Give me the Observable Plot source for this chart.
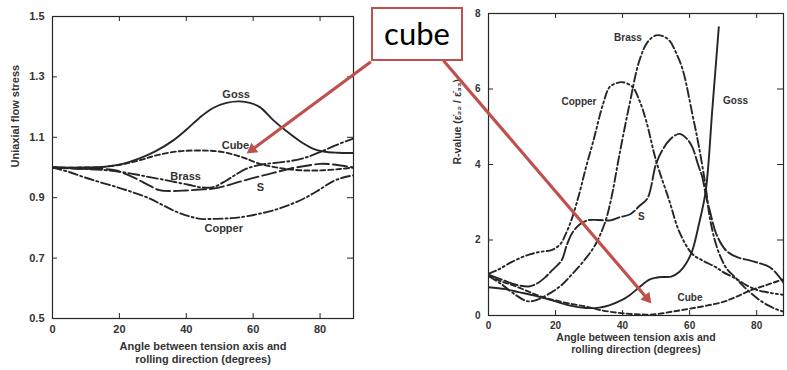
<!DOCTYPE html>
<html><head><meta charset="utf-8">
<script src="https://cdn.jsdelivr.net/npm/d3@7"></script>
<script src="https://cdn.jsdelivr.net/npm/@observablehq/plot@0.6"></script>
<style>
html,body{margin:0;padding:0;background:#fff;overflow:hidden;}
#wrap{position:relative;width:787px;height:370px;overflow:hidden;background:#fff;}
#left{position:absolute;left:0;top:0;}
#right{position:absolute;left:400px;top:0;}
#callout{position:absolute;left:371px;top:7px;width:88px;height:50px;border:2px solid #c0504d;background:#fff;font-family:Lato,"Open Sans",sans-serif;font-size:31px;line-height:48px;text-align:center;color:#000;}
</style></head>
<body>
<div id="wrap"><div id="left"></div><div id="right"></div><div id="callout">cube</div></div>
<script>
// ---------- data ----------
const angleTicks = [0, 20, 40, 60, 80];
const flowTicks = [0.5, 0.7, 0.9, 1.1, 1.3, 1.5];
const rTicks = [0, 2, 4, 6, 8];
const textures = ["Goss", "Cube", "Brass", "S", "Copper"];

// Left panel: uniaxial flow stress vs angle  [angle, value]
const flowGoss = [[0,1.0],[10,1.0],[16,1.003],[21,1.012],[26,1.03],[31,1.055],[36,1.089],[40,1.125],[44,1.165],[48,1.197],[52,1.214],[56,1.219],[59,1.214],[62,1.2],[66,1.157],[70,1.12],[74,1.087],[78,1.062],[81,1.053],[85,1.049],[90,1.048]];
const flowCube = [[0,1.0],[10,1.0],[16,1.003],[22,1.013],[27,1.027],[31,1.04],[38,1.054],[46,1.056],[51,1.051],[55,1.04],[58,1.029],[62,1.012],[66,1.002],[70,0.995],[76,0.99],[81,0.991],[86,0.995],[90,1.0]];
const flowBrass = [[0,1.0],[8,0.996],[15,0.992],[20,0.986],[25,0.977],[29,0.968],[33,0.96],[37,0.951],[41,0.942],[44,0.935],[48,0.935],[52,0.957],[55,0.978],[58,0.996],[61,1.006],[64,1.012],[68,1.017],[72,1.023],[76,1.034],[80,1.051],[85,1.075],[90,1.096]];
const flowS = [[0,1.0],[8,0.996],[15,0.995],[19,0.99],[22,0.978],[25,0.963],[29,0.94],[32,0.925],[36,0.922],[40,0.924],[44,0.927],[48,0.93],[52,0.94],[56,0.953],[61,0.968],[66,0.982],[71,0.996],[76,1.006],[80,1.012],[84,1.01],[90,1.0]];
const flowCopper = [[0,1.0],[5,0.985],[9.4,0.968],[14,0.952],[19.3,0.935],[24,0.918],[29.3,0.896],[33,0.875],[37.3,0.852],[41,0.838],[44.3,0.83],[49,0.83],[53,0.832],[56,0.835],[61,0.845],[66,0.858],[71,0.877],[76,0.902],[80,0.928],[84,0.955],[87,0.967],[90,0.974]];
const flowLabels = [[54.9,1.242],[54.7,1.073],[39.8,0.971],[62.2,0.935],[51.2,0.797]];

// Right panel: R-value vs angle  [angle, value]
const rGoss = [[0,0.75],[5,0.7],[9,0.62],[14,0.52],[19,0.4],[24,0.27],[29,0.2],[33,0.21],[36,0.27],[40,0.42],[42,0.53],[45,0.75],[48,0.95],[50,1.0],[52,1.02],[54.5,1.03],[56.9,1.15],[58.9,1.37],[60.8,1.72],[62.8,2.43],[64.8,3.3],[66.8,5.5],[68.7,7.64]];
const rCube = [[0,1.05],[4,0.9],[8,0.78],[12,0.63],[16,0.49],[20,0.4],[25,0.3],[29,0.24],[33,0.15],[37,0.09],[41,0.05],[45,0.03],[48,0.02],[52,0.06],[56,0.12],[60,0.18],[65,0.26],[70,0.36],[74,0.5],[78,0.66],[82,0.78],[86,0.9],[90,1.02]];
const rBrass = [[0,1.05],[4,0.82],[8,0.55],[11.5,0.38],[14,0.4],[18.9,0.62],[22,0.82],[24.8,1.08],[28,1.4],[31.7,1.85],[34.7,2.45],[36.5,3.05],[39.1,4.28],[42.1,5.61],[45,6.75],[47.5,7.25],[50,7.42],[52,7.4],[54,7.28],[56,6.95],[58,6.49],[60.8,5.34],[62.8,4.46],[64.8,3.4],[66,2.6],[67.5,2.0],[69,1.6],[71,1.25],[73.7,1.0],[76,0.78],[78.6,0.57],[81,0.4],[83.6,0.26],[86,0.16],[88.5,0.09],[90,0.06]];
const rS = [[0,1.08],[4,0.95],[8,0.82],[12,0.77],[14.5,0.85],[16.9,1.01],[19,1.2],[21.8,1.46],[23.3,1.85],[24.8,2.16],[27,2.4],[29.5,2.52],[32.7,2.53],[36.4,2.52],[39,2.6],[42.4,2.69],[45,2.9],[47.4,3.1],[50,4.02],[52,4.4],[54,4.65],[56.9,4.81],[59,4.7],[60.8,4.46],[62.5,4.0],[63.8,3.66],[64.8,3.2],[66,2.78],[68,2.15],[70.9,1.72],[74,1.55],[77.9,1.46],[81,1.38],[83.9,1.28],[86.5,1.05],[88.8,0.78],[90,0.7]];
const rCopper = [[0,1.1],[3,1.22],[7,1.42],[11,1.58],[15,1.68],[19,1.74],[21.5,1.9],[23,2.15],[25,2.6],[27.3,3.3],[29,3.9],[31.2,4.6],[34.2,5.61],[36.1,6.05],[38,6.15],[40.1,6.18],[43,6.05],[45,5.7],[47,5.17],[50,4.1],[53.9,3.05],[57,2.2],[60.8,1.63],[64,1.45],[67.8,1.28],[70,1.15],[73.7,0.98],[77,0.8],[80,0.68],[84,0.6],[88,0.55],[90,0.54]];
const rLabels = [[73.7,5.7],[60.1,0.46],[41.6,7.35],[45.6,2.62],[27.0,5.67]];

// callout arrows [x1, y1, x2, y2] in each panel's data units
const leftArrow = [95.2, 1.35, 57.7, 1.043];
const rightArrow = [-13.4, 6.75, 48.9, 0.29];

// ---------- styles ----------
const dash = {Goss: null, Cube: "5,3", Brass: "11,3,2,3", S: "14,4", Copper: "9,3,2,3"};
const dashR = {Goss: null, Cube: "5,3", Brass: "9,3,2,3", S: "14,3", Copper: "8,3,2,3,2,3"};
const INK = "#262626";
const RED = "#c0504d";
const FONT = "Liberation Sans, Arial, sans-serif";

const L = {w: 380, h: 370, ml: 52, mr: 27, mt: 16, mb: 52, x: [0, 90], y: [0.5, 1.5],
  tickFont: 11, labelFont: 11, curveFont: 11, tickPad: 7, xLabelDy: [31, 44], yLabelDx: -37};
const R = {w: 387, h: 370, ml: 88, mr: 4, mt: 13, mb: 55, x: [0, 88], y: [0, 8],
  tickFont: 10, labelFont: 10.5, curveFont: 10, tickPad: 6, xLabelDy: [25, 37], yLabelDx: -31};

function toPx(c, x, y) {
  const fw = c.w - c.ml - c.mr, fh = c.h - c.mt - c.mb;
  return [c.ml + (x - c.x[0]) / (c.x[1] - c.x[0]) * fw, c.mt + (c.y[1] - y) / (c.y[1] - c.y[0]) * fh];
}
function toData(c, px, py) {
  const fw = c.w - c.ml - c.mr, fh = c.h - c.mt - c.mb;
  return [c.x[0] + (px - c.ml) / fw * (c.x[1] - c.x[0]), c.y[1] - (py - c.mt) / fh * (c.y[1] - c.y[0])];
}
function arrowMarks(c, a) {
  const p0 = toPx(c, a[0], a[1]), p1 = toPx(c, a[2], a[3]);
  const dx = p1[0] - p0[0], dy = p1[1] - p0[1], len = Math.hypot(dx, dy);
  const ux = dx / len, uy = dy / len;
  const base = toData(c, p1[0] - ux * 10, p1[1] - uy * 10);
  const ctr = toData(c, p1[0] - ux * 8.3, p1[1] - uy * 8.3);
  const ang = Math.atan2(dy, dx) * 180 / Math.PI + 90;
  return [
    Plot.link([0], {x1: a[0], y1: a[1], x2: base[0], y2: base[1], stroke: RED, strokeWidth: 3.2}),
    Plot.dot([0], {x: ctr[0], y: ctr[1], symbol: "triangle2", r: 5.6, fill: RED, stroke: "none", rotate: ang})
  ];
}

function ticks(c, xt, yt) {
  const fw = c.w - c.ml - c.mr, fh = c.h - c.mt - c.mb;
  const xi = xt.filter(d => d > c.x[0] && d < c.x[1]);
  const yi = yt.filter(d => d > c.y[0] && d < c.y[1]);
  return [
    Plot.ruleX(xi, {x: d => d, insetTop: fh - 5, stroke: INK, strokeWidth: 1}),
    Plot.ruleX(xi, {x: d => d, insetBottom: fh - 5, stroke: INK, strokeWidth: 1}),
    Plot.ruleY(yi, {y: d => d, insetRight: fw - 5, stroke: INK, strokeWidth: 1}),
    Plot.ruleY(yi, {y: d => d, insetLeft: fw - 6, stroke: INK, strokeWidth: 1})
  ];
}

function panel(c, series, dashes, labels, yTicks, yLabel, arrow) {
  const marks = [];
  textures.forEach((name, i) => {
    marks.push(Plot.line(series[i], {x: d => d[0], y: d => d[1], curve: "catmull-rom",
      stroke: INK, strokeWidth: 1.9, strokeDasharray: dashes[name], clip: true}));
  });
  marks.push(Plot.text(textures, {x: (d, i) => labels[i][0], y: (d, i) => labels[i][1], text: d => d,
    fontSize: c.curveFont, fontWeight: "bold", fill: "#333"}));
  marks.push(Plot.frame({stroke: INK, strokeWidth: 1.2}));
  marks.push(...ticks(c, angleTicks, yTicks));
  marks.push(Plot.axisX({ticks: angleTicks, tickSize: 0, tickPadding: c.tickPad, label: null, fill: "#333", fontWeight: "bold", fontSize: c.tickFont}));
  marks.push(Plot.axisY({ticks: yTicks, tickSize: 0, tickPadding: 8, label: null, fill: "#333", fontWeight: "bold", fontSize: c.tickFont}));
  marks.push(Plot.text([yLabel], {frameAnchor: "left", dx: c.yLabelDx, rotate: -90, text: d => d, fontSize: c.labelFont, fontWeight: "bold", fill: "#333"}));
  marks.push(Plot.text(["Angle between tension axis and"], {frameAnchor: "bottom", dy: c.xLabelDy[0], text: d => d, fontSize: c.labelFont, fontWeight: "bold", fill: "#333"}));
  marks.push(Plot.text(["rolling direction (degrees)"], {frameAnchor: "bottom", dy: c.xLabelDy[1], text: d => d, fontSize: c.labelFont, fontWeight: "bold", fill: "#333"}));
  marks.push(...arrowMarks(c, arrow));
  return Plot.plot({
    width: c.w, height: c.h,
    marginLeft: c.ml, marginRight: c.mr, marginTop: c.mt, marginBottom: c.mb,
    x: {domain: c.x}, y: {domain: c.y},
    style: {background: "transparent", overflow: "visible", fontFamily: FONT, fontSize: "11px", color: "#333"},
    marks
  });
}

document.getElementById("left").appendChild(
  panel(L, [flowGoss, flowCube, flowBrass, flowS, flowCopper], dash, flowLabels, flowTicks,
    "Uniaxial flow stress", leftArrow));
document.getElementById("right").appendChild(
  panel(R, [rGoss, rCube, rBrass, rS, rCopper], dashR, rLabels, rTicks,
    "R-value (\u03B5\u0307\u2082\u2082 / \u03B5\u0307\u2083\u2083)", rightArrow));
</script>
</body></html>
